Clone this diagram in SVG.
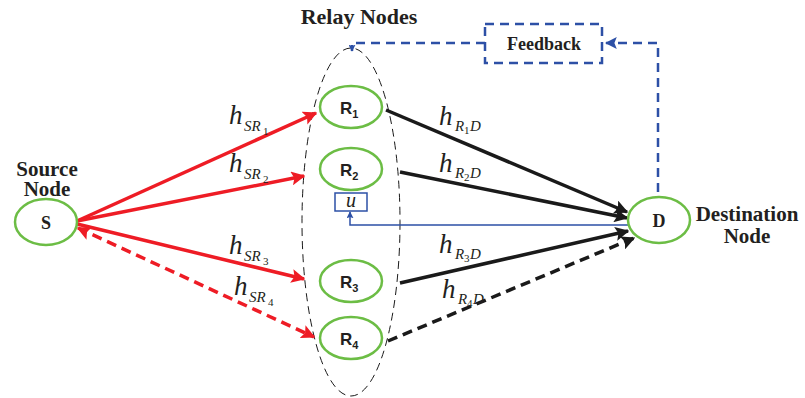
<svg xmlns="http://www.w3.org/2000/svg" width="805" height="398" viewBox="0 0 805 398">
<defs>
<marker id="arr" viewBox="0 0 10 10" markerWidth="14" markerHeight="14" refX="9" refY="5" orient="auto-start-reverse" markerUnits="userSpaceOnUse"><path d="M0,0 L10,5 L0,10 L2,5 Z" fill="#ee1c25"/></marker>
<marker id="ark" viewBox="0 0 10 10" markerWidth="14" markerHeight="14" refX="9" refY="5" orient="auto" markerUnits="userSpaceOnUse"><path d="M0,0 L10,5 L0,10 L2,5 Z" fill="#1a1a1a"/></marker>
<marker id="arb" viewBox="0 0 10 10" markerWidth="12" markerHeight="12" refX="9" refY="5" orient="auto" markerUnits="userSpaceOnUse"><path d="M0,0 L10,5 L0,10 L2,5 Z" fill="#2d50a6"/></marker>
<marker id="arbs" viewBox="0 0 10 10" markerWidth="7" markerHeight="7" refX="9" refY="5" orient="auto" markerUnits="userSpaceOnUse"><path d="M0,0 L10,5 L0,10 L2,5 Z" fill="#2d50a6"/></marker>
</defs>
<style>
.node{fill:#fff;stroke:#6cbd45;stroke-width:2.5}
.red{stroke:#ee1c25;stroke-width:3.5;fill:none}
.blk{stroke:#1a1a1a;stroke-width:3.5;fill:none}
.dash{stroke-dasharray:10 6}
.fb{stroke:#2d50a6;stroke-width:2.5;fill:none;stroke-dasharray:9 6}
.bt{font-family:"Liberation Serif",serif;font-weight:bold;fill:#231f20}
.rt{font-family:"Liberation Sans",Arial,sans-serif;font-weight:bold;fill:#231f20}
.h{font-family:"Liberation Serif",serif;font-style:italic;fill:#231f20;font-size:27px}
.s1{font-family:"Liberation Serif",serif;font-style:italic;fill:#231f20;font-size:15px}
.s2{font-family:"Liberation Serif",serif;fill:#231f20;font-size:11px}
</style>
<rect width="805" height="398" fill="#fff"/>
<ellipse cx="351" cy="222" rx="49" ry="174" fill="none" stroke="#1a1a1a" stroke-width="1" stroke-dasharray="8 5"/>
<text class="bt" x="359" y="24" font-size="22" text-anchor="middle">Relay Nodes</text>
<g id="connectors">
<line class="red" x1="77" y1="221" x2="316" y2="113" marker-end="url(#arr)"/>
<line class="red" x1="77" y1="221" x2="304" y2="176" marker-end="url(#arr)"/>
<line class="red" x1="77" y1="224" x2="304" y2="279" marker-end="url(#arr)"/>
<line class="red dash" x1="78" y1="228" x2="314" y2="337" marker-start="url(#arr)" marker-end="url(#arr)"/>
<line class="blk" x1="386" y1="110" x2="627" y2="212" marker-end="url(#ark)"/>
<line class="blk" x1="400" y1="172" x2="627" y2="218" marker-end="url(#ark)"/>
<line class="blk" x1="400" y1="283" x2="628" y2="231" marker-end="url(#ark)"/>
<line class="blk dash" x1="388" y1="341" x2="634" y2="238" marker-end="url(#ark)"/>
<polyline points="628,225 350,225 350,212" fill="none" stroke="#2d50a6" stroke-width="1.5" marker-end="url(#arbs)"/>
<polyline class="fb" points="658,192 658,43 606,43" marker-end="url(#arb)"/>
<polyline class="fb" points="485,43 352,43 352,51" marker-end="url(#arbs)"/>
</g>
<g id="labels">
<text class="h" x="229" y="124">h</text><text class="s1" x="244" y="131">SR</text><text class="s2" x="263" y="135">1</text>
<text class="h" x="229" y="172">h</text><text class="s1" x="244" y="179">SR</text><text class="s2" x="263" y="183">2</text>
<text class="h" x="229" y="254">h</text><text class="s1" x="244" y="261">SR</text><text class="s2" x="263" y="265">3</text>
<text class="h" x="234" y="295">h</text><text class="s1" x="249" y="302">SR</text><text class="s2" x="268" y="306">4</text>
<text class="h" x="439" y="125">h</text><text class="s1" x="455" y="131">R</text><text class="s2" x="464" y="134">1</text><text class="s1" x="470" y="131">D</text>
<text class="h" x="439" y="172">h</text><text class="s1" x="455" y="178">R</text><text class="s2" x="464" y="181">2</text><text class="s1" x="470" y="178">D</text>
<text class="h" x="439" y="253">h</text><text class="s1" x="455" y="259">R</text><text class="s2" x="464" y="262">3</text><text class="s1" x="470" y="259">D</text>
<text class="h" x="442" y="298">h</text><text class="s1" x="458" y="304">R</text><text class="s2" x="467" y="307">4</text><text class="s1" x="473" y="304">D</text>
</g>
<g id="S">
<text class="bt" x="47" y="176" font-size="21" text-anchor="middle">Source</text>
<text class="bt" x="47" y="196" font-size="21" text-anchor="middle">Node</text>
<ellipse class="node" cx="46" cy="222" rx="31" ry="23"/>
<text class="bt" x="46" y="229" font-size="18" text-anchor="middle">S</text>
</g>
<g id="R1"><ellipse class="node" cx="351" cy="107" rx="31" ry="21"/><text class="rt" x="340" y="114" font-size="17">R<tspan font-size="11" dy="4">1</tspan></text></g>
<g id="R2"><ellipse class="node" cx="351" cy="169" rx="31" ry="21"/><text class="rt" x="340" y="176" font-size="17">R<tspan font-size="11" dy="4">2</tspan></text></g>
<g id="R3"><ellipse class="node" cx="351" cy="281" rx="31" ry="21"/><text class="rt" x="340" y="288" font-size="17">R<tspan font-size="11" dy="4">3</tspan></text></g>
<g id="R4"><ellipse class="node" cx="351" cy="338" rx="31" ry="21"/><text class="rt" x="340" y="345" font-size="17">R<tspan font-size="11" dy="4">4</tspan></text></g>
<g id="u"><rect x="335" y="193" width="32" height="18" fill="#fff" stroke="#2d50a6" stroke-width="1.5"/><text x="351" y="207" font-family="Liberation Serif,serif" font-style="italic" font-size="20" text-anchor="middle" fill="#231f20">u</text></g>
<g id="D">
<ellipse class="node" cx="659" cy="220" rx="31" ry="23"/>
<text class="bt" x="659" y="227" font-size="18" text-anchor="middle">D</text>
<text class="bt" x="747" y="221" font-size="21" text-anchor="middle">Destination</text>
<text class="bt" x="747" y="243" font-size="21" text-anchor="middle">Node</text>
</g>
<g id="Feedback">
<rect x="485" y="24" width="117" height="39" fill="#fff" class="fb"/>
<text class="bt" x="544" y="50" font-size="18" text-anchor="middle">Feedback</text>
</g>
</svg>
